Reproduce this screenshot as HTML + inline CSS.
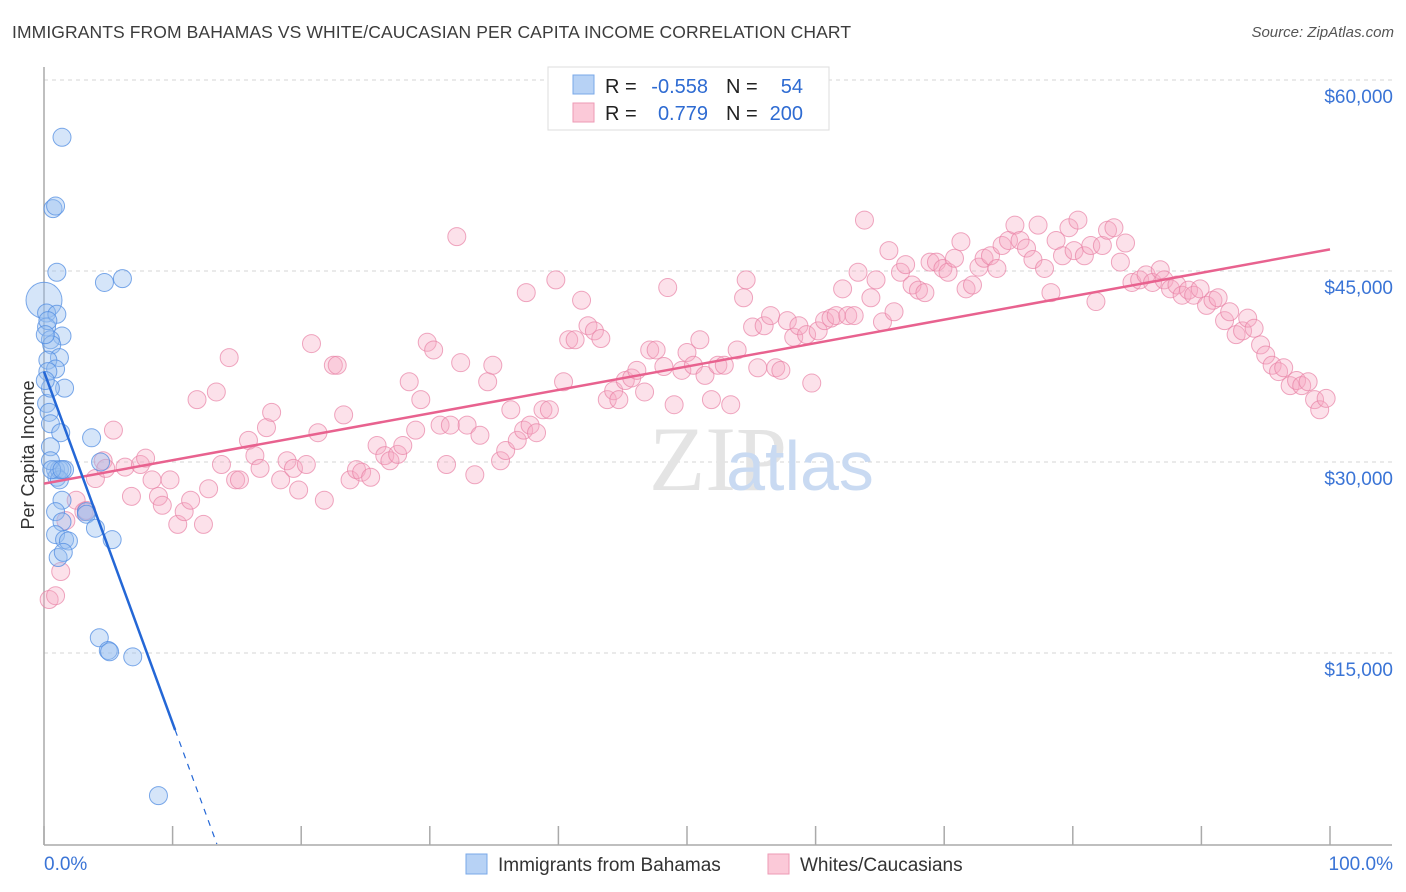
<!DOCTYPE html>
<html><head><meta charset="utf-8">
<style>
body{margin:0;background:#fff;font-family:"Liberation Sans",sans-serif;}
#wrap{position:relative;width:1406px;height:892px;overflow:hidden;}
.title{position:absolute;left:12px;top:22px;font-size:17.5px;color:#3c3c3c;letter-spacing:0.1px;}
.source{position:absolute;right:12px;top:24px;font-size:15px;color:#555;font-style:italic;}
svg{position:absolute;left:0;top:0;}
</style></head>
<body>
<div id="wrap">
<div class="title">IMMIGRANTS FROM BAHAMAS VS WHITE/CAUCASIAN PER CAPITA INCOME CORRELATION CHART</div>
<div class="source">Source: ZipAtlas.com</div>
<svg id="svg" width="1406" height="892"></svg>
</div>
<script>
// x: percent, y: income in $ thousands
const blueX=[1.4,0.7,0.9,1.0,4.7,6.1,0,0.2,1.0,0.2,1.4,0.5,0.6,1.2,0.3,0.9,0.3,1.6,0.2,0.4,0.5,1.3,3.7,0.5,0.9,1.0,1.2,1.2,1.6,4.4,1.4,0.9,3.3,3.3,1.4,4.0,0.9,1.6,1.9,5.3,1.1,1.5,4.3,5.0,5.1,6.9,8.9,0.5,0.6,0.3,0.1,0.5,0.1,1.4];
const blueY=[55.5,49.9,50.1,44.9,44.1,44.4,42.7,41.7,41.6,40.6,39.9,39.6,39.2,38.2,38.0,37.3,37.1,35.8,34.6,33.9,33.0,32.3,31.9,31.2,29.4,28.8,29.4,28.6,29.4,30.0,27.0,26.1,26.1,25.9,25.3,24.8,24.3,23.9,23.8,23.9,22.5,22.9,16.2,15.2,15.1,14.7,3.8,30.1,29.4,41.1,40.0,35.8,36.4,29.4];
const blueR=[9,9,9,9,9,9,18,9,9,9,9,9,9,9,9,9,9,9,9,9,9,9,9,9,9,9,9,9,9,9,9,9,9,9,9,9,9,9,9,9,9,9,9,9,9,9,9,9,9,9,9,9,9,9];
const pinkX=[0.4,0.9,1.3,1.7,2.5,3.1,3.3,4.0,4.6,4.8,5.4,6.3,6.8,7.5,7.9,8.4,8.9,9.2,9.8,10.4,10.9,11.4,11.9,12.4,12.8,13.4,13.8,14.4,14.9,15.2,15.9,16.4,16.8,17.3,17.7,18.4,18.9,19.4,19.8,20.4,20.8,21.3,21.8,22.5,22.8,23.3,23.8,24.3,24.7,25.4,25.9,26.5,26.9,27.5,27.9,28.4,28.9,29.3,29.8,30.3,30.8,31.3,31.6,32.1,32.4,32.9,33.5,33.9,34.5,34.9,35.5,35.9,36.3,36.8,37.3,37.8,38.3,38.8,39.3,39.8,40.4,37.5,40.8,41.3,41.8,42.3,42.8,43.3,43.8,44.3,44.7,45.2,45.7,46.1,46.7,47.1,47.6,48.2,48.5,49.0,49.6,50.0,50.5,51.0,51.4,51.9,52.4,52.9,53.4,53.9,54.4,54.6,55.1,55.5,56.0,56.5,56.9,57.3,57.8,58.3,58.7,59.3,59.7,60.2,60.7,61.2,61.6,62.1,62.5,63.0,63.3,63.8,64.3,64.7,65.2,65.7,66.1,66.6,67.0,67.5,68.0,68.5,68.9,69.4,69.9,70.3,70.8,71.3,71.7,72.2,72.7,73.1,73.6,74.1,74.5,75.0,75.5,75.9,76.4,76.9,77.3,77.8,78.3,78.7,79.2,79.7,80.1,80.4,80.9,81.4,81.8,82.3,82.7,83.2,83.7,84.1,84.6,85.2,85.7,86.2,86.8,87.1,87.6,88.1,88.5,89.0,89.4,89.9,90.4,90.9,91.3,91.8,92.2,92.7,93.2,93.6,94.1,94.6,95.0,95.5,96.0,96.4,96.9,97.4,97.8,98.3,98.8,99.2,99.7];
const pinkY=[19.2,19.5,21.4,25.4,27.0,26.1,26.2,28.7,30.1,29.5,32.5,29.6,27.3,29.8,30.3,28.6,27.3,26.6,28.6,25.1,26.1,27.0,34.9,25.1,27.9,35.5,29.8,38.2,28.6,28.6,31.7,30.5,29.5,32.7,33.9,28.6,30.1,29.5,27.8,29.8,39.3,32.3,27.0,37.6,37.6,33.7,28.6,29.4,29.2,28.8,31.3,30.5,30.1,30.6,31.3,36.3,32.5,34.9,39.4,38.8,32.9,29.8,32.9,47.7,37.8,32.9,29.0,32.1,36.3,37.6,30.1,30.9,34.1,31.7,32.5,32.9,32.3,34.1,34.1,44.3,36.3,43.3,39.6,39.6,42.7,40.7,40.3,39.7,34.9,35.6,34.9,36.4,36.6,37.2,35.5,38.8,38.8,37.5,43.7,34.5,37.2,38.6,37.6,39.6,36.8,34.9,37.6,37.6,34.5,38.8,42.9,44.3,40.6,37.4,40.7,41.5,37.4,37.2,41.1,39.8,40.7,40.0,36.2,40.3,41.1,41.3,41.5,43.6,41.5,41.5,44.9,49.0,42.9,44.3,41.0,46.6,41.8,44.9,45.5,43.9,43.5,43.3,45.7,45.7,45.2,44.9,46.0,47.3,43.6,43.9,45.3,46.0,46.2,45.2,47.0,47.4,48.6,47.4,46.8,45.9,48.6,45.2,43.3,47.4,46.2,48.4,46.6,49.0,46.2,47.0,42.6,47.0,48.2,48.4,45.7,47.2,44.1,44.3,44.7,44.1,45.1,44.3,43.6,43.9,43.1,43.5,43.1,43.6,42.3,42.7,42.9,41.1,41.8,40.0,40.3,41.3,40.5,39.2,38.4,37.6,37.1,37.4,36.0,36.4,36.0,36.3,34.9,34.1,35.0];
const blueTrend=[37.1,-2.76];   // intercept ($k), slope ($k per %)
const pinkTrend=[28.3,0.184];
const yTicks=[15,30,45,60];
const yTickLabels=["$15,000","$30,000","$45,000","$60,000"];
const xTicks=[0,10,20,30,40,50,60,70,80,90,100];

const NS="http://www.w3.org/2000/svg";
const svg=document.getElementById('svg');
const X0=44,X1=1330,Y0=844,PX15=191;
const sx=v=>X0+(X1-X0)*v/100;
const sy=v=>Y0-v*PX15/15;
function el(tag,attrs,parent){const e=document.createElementNS(NS,tag);for(const k in attrs)e.setAttribute(k,attrs[k]);(parent||svg).appendChild(e);return e;}

// gridlines & y labels
yTicks.forEach((t,i)=>{
  const g=el('line',{x1:X0,x2:1392,y1:sy(t),y2:sy(t),stroke:'#d6d6d6','stroke-dasharray':'4,4','stroke-width':1});
  
  
  const tx=el('text',{x:1393,y:sy(t)+23,'text-anchor':'end','font-size':19,fill:'#3a74d6'});
  tx.textContent=yTickLabels[i];
  
  
});
// axes
const ya=el('line',{x1:X0,x2:X0,y1:67,y2:845,stroke:'#aaa','stroke-width':1.5});


const xa=el('line',{x1:X0,x2:1392,y1:845,y2:845,stroke:'#aaa','stroke-width':1.5});


xTicks.forEach(t=>{
  const tk=el('line',{x1:sx(t),x2:sx(t),y1:826,y2:845,stroke:'#aaa','stroke-width':1.5});
  
  
});
// watermark
const wm=el('text',{x:718,y:490,'text-anchor':'middle','font-size':92,'font-family':'Liberation Serif,serif',fill:'#e4e4e4'});
wm.textContent='ZIP';


const wm2=el('text',{x:800,y:490,'text-anchor':'middle','font-size':70,fill:'#c9daf2'});
wm2.textContent='atlas';



// points
pinkX.forEach((x,i)=>{
  const c=el('circle',{cx:sx(x),cy:sy(pinkY[i]),r:9,fill:'rgba(245,170,196,0.35)',stroke:'rgba(232,130,165,0.7)','stroke-width':1});
  
  
});
blueX.forEach((x,i)=>{
  const c=el('circle',{cx:sx(x),cy:sy(blueY[i]),r:blueR[i],fill:'rgba(150,190,240,0.4)',stroke:'rgba(80,140,225,0.75)','stroke-width':1});
  
  
});
// trend lines
const pl=el('line',{x1:sx(0),y1:sy(pinkTrend[0]),x2:sx(100),y2:sy(pinkTrend[0]+pinkTrend[1]*100),stroke:'#e8628f','stroke-width':2.5});


const xs=10.2, xz=-blueTrend[0]/blueTrend[1];
const bl=el('line',{x1:sx(0),y1:sy(blueTrend[0]),x2:sx(xs),y2:sy(blueTrend[0]+blueTrend[1]*xs),stroke:'#2467d6','stroke-width':2.5});


const bd=el('line',{x1:sx(xs),y1:sy(blueTrend[0]+blueTrend[1]*xs),x2:sx(xz),y2:sy(0),stroke:'#2467d6','stroke-width':1.2,'stroke-dasharray':'6,6'});



// axis labels
const yt=el('text',{x:34,y:455,'text-anchor':'middle','font-size':18,fill:'#333',transform:'rotate(-90 34 455)'});
yt.textContent='Per Capita Income';


const xl0=el('text',{x:44,y:870,'font-size':19,fill:'#3a74d6'});
xl0.textContent='0.0%';


const xl1=el('text',{x:1393,y:870,'text-anchor':'end','font-size':19,fill:'#3a74d6'});
xl1.textContent='100.0%';



// top legend
const lg=el('g',{});


el('rect',{x:548,y:67,width:281,height:63,fill:'#fff',stroke:'#ddd','stroke-width':1},lg);
el('rect',{x:573,y:75,width:21,height:19,fill:'#b7d2f5',stroke:'#7aa8e8'},lg);
el('rect',{x:573,y:103,width:21,height:19,fill:'#fbc9d8',stroke:'#ee9ab5'},lg);
function lt(x,y,txt,fill,anchor,name){const t=el('text',{x:x,y:y,'font-size':20,fill:fill,'text-anchor':anchor||'start'},lg);t.textContent=txt;}
lt(605,93,'R =','#222','start','legend-r-label');
lt(708,93,'-0.558','#2e6bd2','end','legend-r-bahamas');
lt(726,93,'N =','#222','start','legend-n-label');
lt(803,93,'54','#2e6bd2','end','legend-n-bahamas');
lt(605,120,'R =','#222','start','legend-r-label');
lt(708,120,'0.779','#2e6bd2','end','legend-r-whites');
lt(726,120,'N =','#222','start','legend-n-label');
lt(803,120,'200','#2e6bd2','end','legend-n-whites');

// bottom legend
const bl2=el('g',{});


el('rect',{x:466,y:854,width:21,height:20,fill:'#b7d2f5',stroke:'#7aa8e8'},bl2);
el('rect',{x:768,y:854,width:21,height:20,fill:'#fbc9d8',stroke:'#ee9ab5'},bl2);
const b1=el('text',{x:498,y:871,'font-size':19,fill:'#333'},bl2);
b1.textContent='Immigrants from Bahamas';


const b2=el('text',{x:800,y:871,'font-size':19,fill:'#333'},bl2);
b2.textContent='Whites/Caucasians';


</script>
</body></html>
